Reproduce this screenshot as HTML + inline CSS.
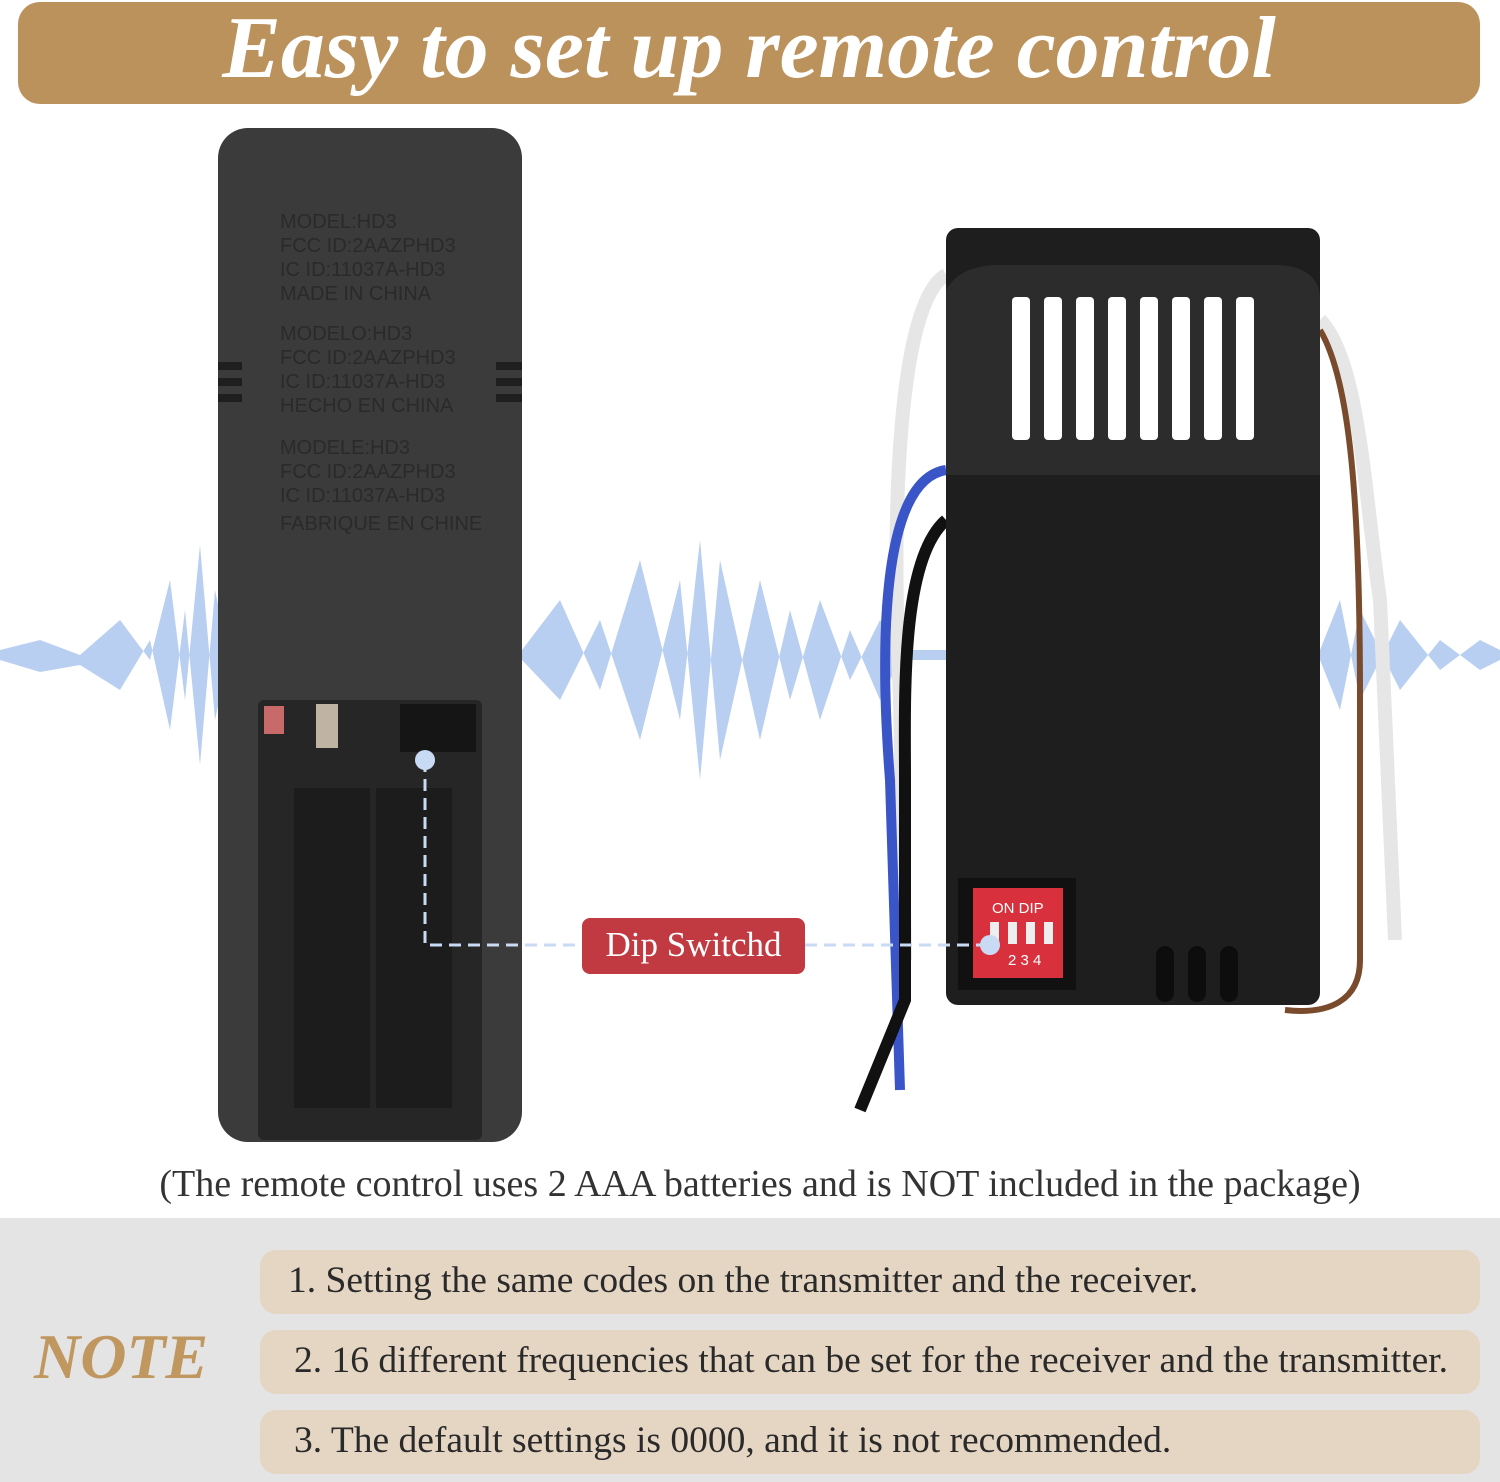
<!DOCTYPE html>
<html><head><meta charset="utf-8"><style>
*{margin:0;padding:0;box-sizing:border-box}
body{width:1500px;height:1482px;background:#fff;position:relative;overflow:hidden;font-family:"Liberation Serif",serif}
.abs{position:absolute}
.hdr{left:18px;top:2px;width:1462px;height:102px;background:#bb915c;border-radius:22px;color:#fff;font-style:italic;font-weight:bold;font-size:88px;text-align:center;line-height:94px}
.pill{left:260px;width:1220px;height:64px;background:#e5d6c3;border-radius:16px;font-size:37.5px;color:#2a2a2a;line-height:62px;white-space:nowrap}
</style></head><body>
<div class="abs hdr">Easy to set up remote control</div>

<svg class="abs" style="left:0;top:0" width="1500" height="1220">
<g fill="#b9cff2">
<path d="M0 650 L40 640 L80 655 L120 620 L150 660 L170 580 L185 700 L200 545 L215 720 L230 650 L522 650 L560 600 L600 690 L640 560 L680 720 L700 540 L720 760 L760 580 L790 700 L820 600 L850 680 L880 620 L900 650 L1320 650 L1340 600 L1360 700 L1400 620 L1440 670 L1480 640 L1500 650 L1500 660 L1480 670 L1440 640 L1400 690 L1360 610 L1340 710 L1320 660 L900 660 L880 700 L850 630 L820 720 L790 610 L760 740 L720 560 L700 780 L680 580 L640 740 L600 620 L560 700 L522 660 L230 660 L215 590 L200 765 L185 610 L170 730 L150 640 L120 690 L80 665 L40 672 L0 660Z"/>
</g>
<rect x="218" y="128" width="304" height="1014" rx="30" fill="#3b3b3b"/>
<rect x="258" y="700" width="224" height="440" rx="6" fill="#262626"/>
<rect x="294" y="788" width="76" height="320" fill="#1c1c1c"/>
<rect x="376" y="788" width="76" height="320" fill="#1c1c1c"/>
<rect x="400" y="704" width="76" height="48" fill="#151515"/>
<rect x="264" y="706" width="20" height="28" fill="#c96a6a"/>
<rect x="316" y="704" width="22" height="44" fill="#bfb3a3"/>
<g fill="#1f1f1f"><rect x="218" y="362" width="24" height="8"/><rect x="218" y="378" width="24" height="8"/><rect x="218" y="394" width="24" height="8"/><rect x="496" y="362" width="26" height="8"/><rect x="496" y="378" width="26" height="8"/><rect x="496" y="394" width="26" height="8"/></g>
<g fill="#2a2a2a" font-family="Liberation Sans" font-size="20">
<text x="280" y="228">MODEL:HD3</text><text x="280" y="252">FCC ID:2AAZPHD3</text><text x="280" y="276">IC ID:11037A-HD3</text><text x="280" y="300">MADE IN CHINA</text>
<text x="280" y="340">MODELO:HD3</text><text x="280" y="364">FCC ID:2AAZPHD3</text><text x="280" y="388">IC ID:11037A-HD3</text><text x="280" y="412">HECHO EN CHINA</text>
<text x="280" y="454">MODELE:HD3</text><text x="280" y="478">FCC ID:2AAZPHD3</text><text x="280" y="502">IC ID:11037A-HD3</text><text x="280" y="530">FABRIQUE EN CHINE</text></g>
<path d="M946 275 C900 300 890 500 900 700 L905 960" stroke="#e6e6e6" stroke-width="14" fill="none"/>
<path d="M946 470 C880 480 880 650 890 780 L900 1090" stroke="#3a55c8" stroke-width="10" fill="none"/>
<path d="M946 520 C900 560 905 700 905 780 L905 1000 L860 1110" stroke="#111" stroke-width="12" fill="none"/>
<path d="M1320 320 C1360 360 1365 500 1380 600 L1395 940" stroke="#e6e6e6" stroke-width="14" fill="none"/>
<path d="M1320 330 C1350 380 1360 500 1360 700 L1360 960 C1360 1000 1330 1015 1285 1010" stroke="#7a4a2c" stroke-width="6" fill="none"/>
<rect x="946" y="228" width="374" height="777" rx="12" fill="#1e1e1e"/>
<path d="M946 475 L946 290 Q960 265 1000 265 L1280 265 Q1320 268 1320 300 L1320 475Z" fill="#2c2c2c"/>
<g fill="#fff"><rect x="1012" y="297" width="18" height="143" rx="4"/><rect x="1044" y="297" width="18" height="143" rx="4"/><rect x="1076" y="297" width="18" height="143" rx="4"/><rect x="1108" y="297" width="18" height="143" rx="4"/><rect x="1140" y="297" width="18" height="143" rx="4"/><rect x="1172" y="297" width="18" height="143" rx="4"/><rect x="1204" y="297" width="18" height="143" rx="4"/><rect x="1236" y="297" width="18" height="143" rx="4"/></g>
<rect x="958" y="878" width="118" height="112" fill="#111"/>
<rect x="973" y="888" width="90" height="90" fill="#d8303c"/>
<g fill="#eee"><rect x="990" y="922" width="9" height="22"/><rect x="1008" y="922" width="9" height="22"/><rect x="1026" y="922" width="9" height="22"/><rect x="1044" y="922" width="9" height="22"/></g>
<text x="992" y="913" fill="#fff" font-family="Liberation Sans" font-size="15">ON  DIP</text>
<text x="1008" y="965" fill="#fff" font-family="Liberation Sans" font-size="15">2 3 4</text>
<g fill="#0d0d0d"><rect x="1156" y="946" width="18" height="56" rx="9"/><rect x="1188" y="946" width="18" height="56" rx="9"/><rect x="1220" y="946" width="18" height="56" rx="9"/></g>
<g stroke="#c9daf5" stroke-width="3" stroke-dasharray="12 7" fill="none">
<path d="M425 760 L425 945 L582 945"/><path d="M805 945 L990 945"/></g>
<circle cx="425" cy="760" r="10" fill="#c9daf5"/><circle cx="990" cy="945" r="10" fill="#c9daf5"/>
</svg>

<div class="abs" style="left:582px;top:918px;width:223px;height:56px;background:#c13a42;border-radius:8px;color:#fff;font-size:35px;text-align:center;line-height:54px">Dip Switchd</div>
<div class="abs" style="left:0;top:1162px;width:1520px;text-align:center;font-size:38px;color:#333;white-space:nowrap">(The remote control uses 2 AAA batteries and is NOT included in the package)</div>

<div class="abs" style="left:0;top:1218px;width:1500px;height:264px;background:#e4e4e4"></div>
<div class="abs" style="left:34px;top:1320px;font-size:64px;font-style:italic;font-weight:bold;color:#c0975f">NOTE</div>
<div class="abs pill" style="top:1250px;padding-left:28px">1. Setting the same codes on the transmitter and the receiver.</div>
<div class="abs pill" style="top:1330px;padding-left:34px">2. 16 different frequencies that can be set for the receiver and the transmitter.</div>
<div class="abs pill" style="top:1410px;padding-left:34px">3. The default settings is 0000, and it is not recommended.</div>
</body></html>
